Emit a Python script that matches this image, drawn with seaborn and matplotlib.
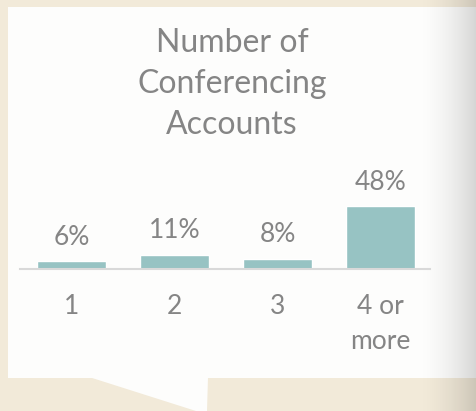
import numpy as np
import pandas as pd
import matplotlib
matplotlib.use("Agg")
import matplotlib.pyplot as plt
import seaborn as sns
from matplotlib.patches import Polygon, Rectangle

# Chart data
categories = ["1", "2", "3", "4 or\nmore"]
shares = [6, 11, 8, 48]
value_labels = ["6%", "11%", "8%", "48%"]
title = "Number of\nConferencing\nAccounts"

BG = "#f2ead9"
PANEL = "#fdfdfc"
BAR = "#97c3c3"
TEXT = "#858585"
AXIS = "#d9d9d9"

sns.set_theme(style="white")
plt.rcParams["font.family"] = ["Lato", "DejaVu Sans"]

W, H = 477, 411
fig = plt.figure(figsize=(W / 100, H / 100), dpi=100)
fig.patch.set_facecolor(BG)

# background panel (speech bubble) in pixel coordinates
bg = fig.add_axes([0, 0, 1, 1])
bg.set_xlim(0, W)
bg.set_ylim(H, 0)
bg.axis("off")
bg.add_patch(Rectangle((8, 7), W - 8, 371, facecolor=PANEL, edgecolor="none"))
bg.add_patch(Polygon([(89, 377), (208, 377), (207, H), (196, H)],
                     closed=True, facecolor=PANEL, edgecolor="none"))
# shadow gradient on the right edge
grad = np.linspace(0, 1, 200) ** 1.8
img = np.zeros((1, 200, 4))
img[..., 3] = grad * 0.16
bg.imshow(img, extent=(415, W, H, 0), aspect="auto", zorder=5)

fig.text(232 / W, 1 - 84 / H, title, ha="center", va="center",
         fontsize=23, color=TEXT, linespacing=1.45)

# bar chart axes
ax = fig.add_axes([20 / W, 1 - 269 / H, 410 / W, 131 / H])
ax.set_facecolor("none")
df = pd.DataFrame({"cat": categories, "share": shares})
sns.barplot(data=df, x="cat", y="share", color=BAR, saturation=1,
            width=0.67, ax=ax)
ax.set_xlim(-0.5, 3.48)
ax.set_ylim(0, 100)
ax.bar_label(ax.containers[0], labels=value_labels, padding=8,
             fontsize=19, color=TEXT)

sns.despine(ax=ax, left=True)
ax.spines["bottom"].set_color(AXIS)
ax.spines["bottom"].set_linewidth(1.5)
ax.set_yticks([])
ax.set_xlabel("")
ax.set_ylabel("")
ax.tick_params(axis="x", length=0, pad=18, labelsize=19, colors=TEXT)
for t in ax.get_xticklabels():
    t.set_linespacing(1.5)

fig.savefig("out.png", dpi=100, facecolor=BG)
